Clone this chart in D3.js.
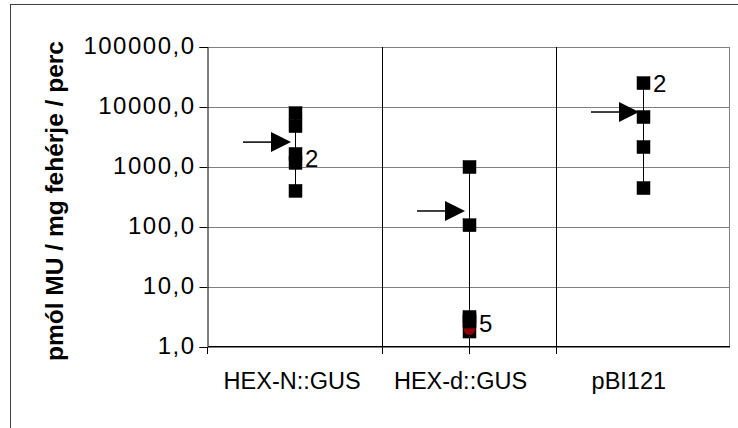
<!DOCTYPE html>
<html>
<head>
<meta charset="utf-8">
<script src="https://cdn.jsdelivr.net/npm/d3@7"></script>
<style>
  html, body { margin: 0; padding: 0; background: #fff; }
  svg { display: block; }
  text { font-family: "Liberation Sans", Arial, sans-serif; }
</style>
</head>
<body>
<svg id="chart" width="738" height="428"></svg>
<script>
// ---- data ----
const categories = ["HEX-N::GUS", "HEX-d::GUS", "pBI121"];
const hexNValues = [7900, 4800, 1650, 1170, 400];
const hexDValues = [1000, 107, 3.16, 2.9, 2.66, 1.81];
const pbiValues = [25000, 6800, 2150, 445];
const redValues = [null, 2.0, null];
const meanValues = [2600, 185, 8250];
const lineHigh = [7900, 1000, 25000];
const lineLow = [400, 0.76, 445];
const annotText = ["2", "5", "2"];
const annotValue = [1400, 2.5, 25000];
const yTicks = [1, 10, 100, 1000, 10000, 100000];
const yTitle = "pmól MU / mg fehérje / perc";

const seriesByCat = [hexNValues, hexDValues, pbiValues];

// ---- layout ----
const svg = d3.select("#chart");
const plot = { left: 208, right: 730, top: 47, bottom: 347 };

const x = d3.scaleBand().domain(categories).range([plot.left, plot.right]);
const xLabel = d3.scaleBand().domain(categories).range([plot.left, 713]);
const y = d3.scaleLog().domain([1, 100000]).range([plot.bottom, plot.top]);
const cx = c => x(c) + x.bandwidth() / 2;

const loc = d3.formatLocale({ decimal: ",", thousands: "", grouping: [3], currency: ["", ""] });
const fmt = loc.format(".1f");

// outer frame (only left/top visible)
svg.append("rect")
  .attr("x", 10.5).attr("y", 4.5)
  .attr("width", 800).attr("height", 500)
  .attr("fill", "none").attr("stroke", "#404040").attr("stroke-width", 1);

// horizontal gridlines
svg.append("g").selectAll("line").data(yTicks).join("line")
  .attr("x1", plot.left).attr("x2", plot.right)
  .attr("y1", d => Math.round(y(d)) + 0.5).attr("y2", d => Math.round(y(d)) + 0.5)
  .attr("stroke", "#808080").attr("stroke-width", 1);

// right border of plot
svg.append("line")
  .attr("x1", plot.right - 0.5).attr("x2", plot.right - 0.5)
  .attr("y1", plot.top).attr("y2", plot.bottom)
  .attr("stroke", "#808080");

// category boundary lines (vertical) + ticks below
const bounds = categories.map(c => x(c)).concat([plot.right]);
svg.append("g").selectAll("line").data(bounds.slice(1, -1)).join("line")
  .attr("x1", d => Math.round(d) + 0.5).attr("x2", d => Math.round(d) + 0.5)
  .attr("y1", plot.top).attr("y2", plot.bottom + 7)
  .attr("stroke", "#000").attr("stroke-width", 1);

// y axis
const yAxis = d3.axisLeft(y).tickValues(yTicks).tickSize(8).tickPadding(4).tickFormat(fmt);
const gy = svg.append("g").attr("transform", `translate(${plot.left - 0.5},0)`).call(yAxis);
gy.select(".domain").attr("stroke", "#000");
gy.selectAll(".tick line").attr("stroke", "#000");
gy.selectAll("text").attr("font-size", 24).attr("letter-spacing", "1.5px").attr("fill", "#000").attr("dy", "0.28em");

// x axis line
svg.append("line").attr("x1", plot.left).attr("x2", plot.right)
  .attr("y1", plot.bottom - 0.5).attr("y2", plot.bottom - 0.5).attr("stroke", "#000");
svg.append("line").attr("x1", plot.left - 0.5).attr("x2", plot.left - 0.5)
  .attr("y1", plot.bottom).attr("y2", plot.bottom + 7).attr("stroke", "#000");

// x labels
const xAxis = d3.axisBottom(xLabel).tickSize(0).tickPadding(26);
const gx = svg.append("g").attr("transform", `translate(0,${plot.bottom - 0.5})`).call(xAxis);
gx.select(".domain").remove();
gx.selectAll("text").attr("font-size", 23.5).attr("fill", "#000");

// y title
svg.append("text")
  .attr("transform", `translate(63,201) rotate(-90)`)
  .attr("text-anchor", "middle")
  .attr("font-size", 24.5).attr("font-weight", "bold")
  .text(yTitle);

// high-low lines
svg.append("g").selectAll("line").data(categories).join("line")
  .attr("x1", (c) => Math.round(cx(c)) + 0.5).attr("x2", (c) => Math.round(cx(c)) + 0.5)
  .attr("y1", (c, i) => y(lineHigh[i])).attr("y2", (c, i) => y(lineLow[i]))
  .attr("stroke", "#000").attr("stroke-width", 1);

// markers
const ms = 13;
const gm = svg.append("g");
categories.forEach((c, i) => {
  const vals = seriesByCat[i].slice().sort((a, b) => a - b); // draw lowest first
  vals.forEach((v, k) => {
    gm.append("rect")
      .attr("x", Math.round(cx(c)) - ms / 2 + 0.5).attr("y", y(v) - ms / 2)
      .attr("width", ms).attr("height", ms)
      .attr("fill", "#000").attr("stroke", "#000").attr("stroke-width", 0.5);
    if (k === 0 && redValues[i] != null) {
      gm.append("circle")
        .attr("cx", Math.round(cx(c)) + 0.5).attr("cy", y(redValues[i]))
        .attr("r", 6).attr("fill", "#8b0000");
    }
  });
});

// mean arrows
const ga = svg.append("g");
categories.forEach((c, i) => {
  const tip = cx(c) - 4;
  const yy = y(meanValues[i]);
  ga.append("line")
    .attr("x1", tip - 48).attr("x2", tip - 18)
    .attr("y1", yy).attr("y2", yy)
    .attr("stroke", "#000").attr("stroke-width", 1.5);
  ga.append("path")
    .attr("d", `M${tip},${yy}L${tip - 20},${yy - 10}L${tip - 20},${yy + 10}Z`)
    .attr("fill", "#000");
});

// count annotations
svg.append("g").selectAll("text").data(categories).join("text")
  .attr("x", c => cx(c) + 10)
  .attr("y", (c, i) => y(annotValue[i]))
  .attr("dy", "0.35em")
  .attr("font-size", 24)
  .text((c, i) => annotText[i]);
</script>
</body>
</html>
